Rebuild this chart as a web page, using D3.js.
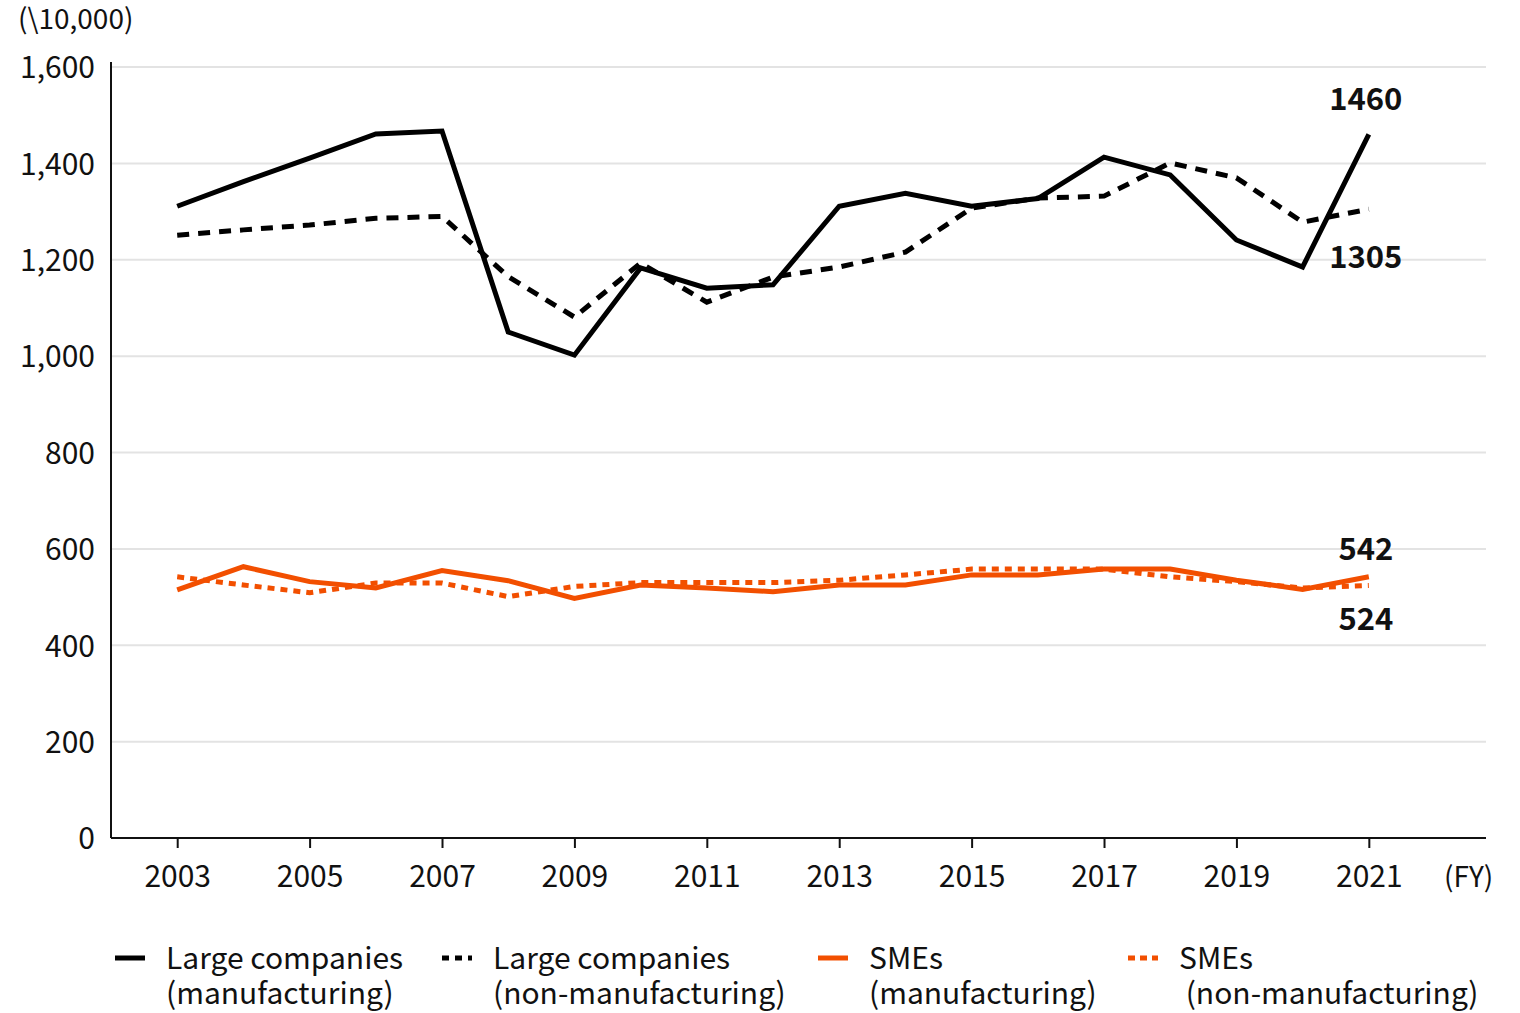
<!DOCTYPE html>
<html>
<head>
<meta charset="utf-8">
<script src="https://cdn.jsdelivr.net/npm/d3@7"></script>
<style>
  body { margin: 0; background: #fff; }
  svg text { font-family: "Noto Sans CJK JP", "Noto Sans", sans-serif; fill: #111; }
</style>
</head>
<body>
<div id="chart"></div>
<script>
// fiscal years and series (unit: 10,000 yen)
var years = d3.range(2003, 2022);
var largeMfg    = [1311, 1362, 1411, 1461, 1467, 1050, 1002, 1183, 1141, 1148, 1311, 1338, 1311, 1327, 1413, 1376, 1241, 1185, 1460];
var largeNonMfg = [1251, 1262, 1272, 1286, 1290, 1165, 1081, 1193, 1112, 1164, 1185, 1216, 1307, 1328, 1332, 1401, 1370, 1278, 1305];
var smeMfg      = [515, 563, 532, 519, 555, 534, 497, 525, 519, 511, 525, 525, 546, 546, 558, 558, 535, 516, 542];
var smeNonMfg   = [542, 525, 509, 529, 529, 501, 522, 530, 530, 530, 535, 546, 558, 558, 558, 542, 532, 519, 524];
var yTicks = [0, 200, 400, 600, 800, 1000, 1200, 1400, 1600];
var xTicks = [2003, 2005, 2007, 2009, 2011, 2013, 2015, 2017, 2019, 2021];

var orange = "#f24f00";
var series = [
  {name: ["Large companies", "(manufacturing)"], values: largeMfg, color: "#000", dash: null, lx: 115},
  {name: ["Large companies", "(non-manufacturing)"], values: largeNonMfg, color: "#000", dash: "12,9", lx: 442},
  {name: ["SMEs", "(manufacturing)"], values: smeMfg, color: orange, dash: null, lx: 818},
  {name: ["SMEs", " (non-manufacturing)"], values: smeNonMfg, color: orange, dash: "7,6", lx: 1128}
];

var width = 1520, height = 1013;
var svg = d3.select("#chart").append("svg")
    .attr("width", width)
    .attr("height", height);

var x = d3.scaleLinear().domain([2002, 2022.77]).range([111, 1486]);
var y = d3.scaleLinear().domain([0, 1600]).range([838, 67]);

// gridlines
svg.append("g").selectAll("line")
    .data(yTicks.filter(d => d > 0))
    .enter().append("line")
    .attr("x1", 112).attr("x2", 1486)
    .attr("y1", d => y(d)).attr("y2", d => y(d))
    .attr("stroke", "#e3e3e3")
    .attr("stroke-width", 2);

// y axis
var yAxis = svg.append("g")
    .attr("transform", "translate(111,0)")
    .call(d3.axisLeft(y).tickValues(yTicks).tickSize(0).tickPadding(16).tickFormat(d3.format(",")));
yAxis.select(".domain").attr("stroke", "#111").attr("stroke-width", 2).attr("d", "M0,62V838");
yAxis.selectAll("text").style("font-size", "30px").attr("dy", "0.36em");

// x axis
var xAxis = svg.append("g")
    .attr("transform", "translate(0,838)")
    .call(d3.axisBottom(x).tickValues(xTicks).tickSize(10).tickPadding(18).tickFormat(d3.format("d")));
xAxis.select(".domain").attr("stroke", "#111").attr("stroke-width", 2).attr("d", "M111,0H1486");
xAxis.selectAll(".tick line").attr("stroke", "#111").attr("stroke-width", 2);
xAxis.selectAll("text").style("font-size", "30px");

svg.append("text").attr("x", 18).attr("y", 29).style("font-size", "28px").text("(\\10,000)");
svg.append("text").attr("x", 1444).attr("y", 887).style("font-size", "28px").text("(FY)");

// lines
var line = d3.line()
    .x((d, i) => x(years[i]))
    .y(d => y(d));

svg.append("g").selectAll("path")
    .data(series)
    .enter().append("path")
    .attr("d", d => line(d.values))
    .attr("fill", "none")
    .attr("stroke", d => d.color)
    .attr("stroke-width", 5)
    .attr("stroke-dasharray", d => d.dash)
    .attr("stroke-linejoin", "miter");

// end labels
var endLabels = [
  {v: largeMfg[18], dy: -24},
  {v: largeNonMfg[18], dy: 59},
  {v: smeMfg[18], dy: -17},
  {v: smeNonMfg[18], dy: 45}
];
svg.append("g").selectAll("text")
    .data(endLabels)
    .enter().append("text")
    .attr("x", x(2021) - 3)
    .attr("y", d => y(d.v) + (d.dy))
    .attr("text-anchor", "middle")
    .style("font-size", "31px")
    .style("font-weight", "bold")
    .text(d => d.v);

// legend
var legend = svg.append("g").selectAll("g")
    .data(series)
    .enter().append("g");

legend.append("line")
    .attr("x1", d => d.lx).attr("x2", d => d.lx + 30)
    .attr("y1", 958).attr("y2", 958)
    .attr("stroke", d => d.color)
    .attr("stroke-width", 5)
    .attr("stroke-dasharray", d => d.dash ? (d.color === orange ? "7,5" : "7,6") : null);

legend.append("text")
    .attr("x", d => d.lx + 51)
    .attr("y", 969)
    .style("font-size", "30px")
    .style("white-space", "pre")
    .selectAll("tspan")
    .data(d => d.name.map(n => ({n: n, lx: d.lx})))
    .enter().append("tspan")
    .attr("x", d => d.lx + 51)
    .attr("dy", (d, i) => i ? 35 : 0)
    .text(d => d.n);
</script>
</body>
</html>
